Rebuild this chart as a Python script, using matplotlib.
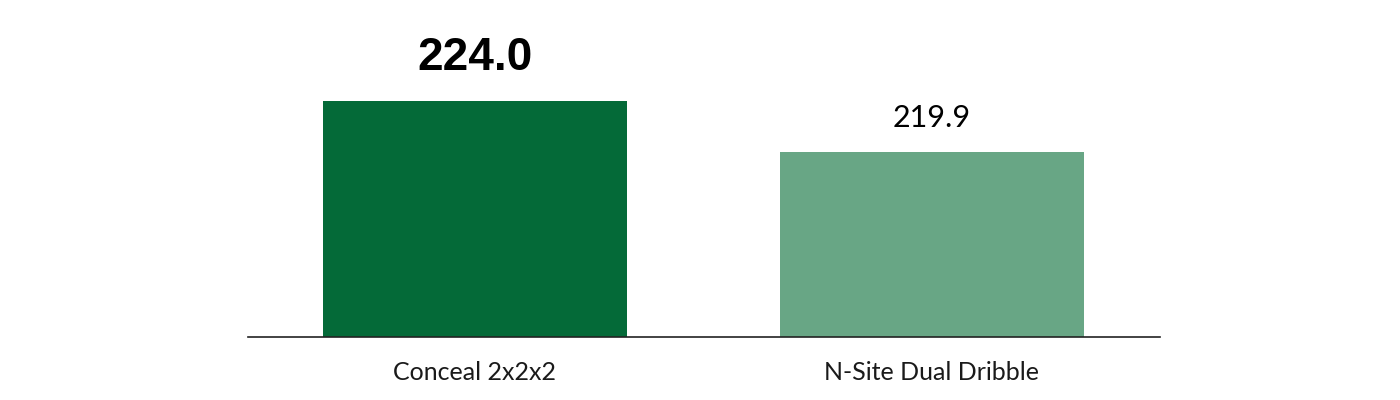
import matplotlib
matplotlib.use("Agg")
import matplotlib.pyplot as plt

categories = ["Conceal 2x2x2", "N-Site Dual Dribble"]
values = [224.0, 219.9]
colors = ["#046a38", "#68a685"]
value_labels = ["224.0", "219.9"]

fig = plt.figure(figsize=(14, 4), dpi=100)
ax = fig.add_axes([248/1400, 1 - 337/400, 912/1400, 337/400])

x = range(len(categories))
bars = ax.bar(x, values, width=0.666, color=colors, bottom=0)
ax.set_xlim(-0.497, 1.5)
ax.set_ylim(205, 205 + 337 / 12.44)

for spine in ["top", "right", "left"]:
    ax.spines[spine].set_visible(False)
ax.spines["bottom"].set_color("#222222")
ax.spines["bottom"].set_linewidth(1.2)
ax.set_yticks([])
ax.set_xticks(list(x))
ax.set_xticklabels(categories, fontsize=18, family="Lato", color="#1a1a1a")
ax.tick_params(axis="x", length=0, pad=17)

# first value highlighted in bold
ax.annotate(value_labels[0], (0, values[0]), xytext=(0, 15), textcoords="offset points",
            ha="center", va="bottom", fontsize=33, fontweight="bold",
            family="Liberation Sans", color="black")
ax.annotate(value_labels[1], (1, values[1]), xytext=(0, 14), textcoords="offset points",
            ha="center", va="bottom", fontsize=22, family="Lato", color="black")

fig.savefig("out.png", dpi=100)
